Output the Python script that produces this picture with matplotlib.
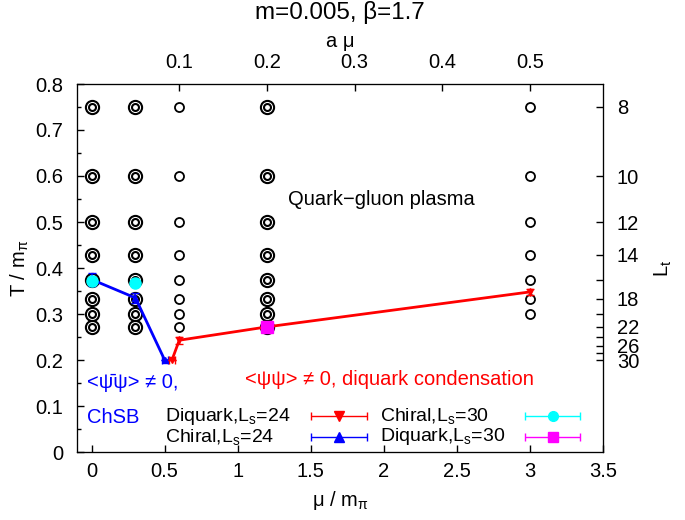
import numpy as np
import matplotlib
matplotlib.use('Agg')
import matplotlib.pyplot as plt

plt.rcParams['font.family'] = ['Liberation Sans', 'DejaVu Sans']
plt.rcParams['mathtext.fontset'] = 'custom'
plt.rcParams['mathtext.rm'] = 'Liberation Sans'
plt.rcParams['mathtext.it'] = 'Liberation Sans:italic'
plt.rcParams['font.size'] = 14.5

# a*m_pi = 1/6  ->  a*mu = (mu/m_pi)/6,  T/m_pi = 6/L_t
ampi = 1.0 / 6.0

# simulated lattices (mu/m_pi, L_t)
mu_double = [0.0, 0.3, 1.2]
Lt_double = [8, 10, 12, 14, 16, 18, 20, 22]
mu_single = [0.6, 0.6, 0.6, 0.6, 0.6, 0.6, 0.6, 0.6, 3.0, 3.0, 3.0, 3.0, 3.0, 3.0, 3.0]
Lt_single = [8, 10, 12, 14, 16, 18, 20, 22, 8, 10, 12, 14, 16, 18, 20]

# transition lines
chiral24_mu = [0.0, 0.3, 0.5]
chiral24_T = [0.375, 0.335, 0.2]
chiral24_Terr = [0.015, 0.01, 0.0]
chiral24_muerr = [0.0, 0.0, 0.02]

diquark24_mu = [0.55, 0.6, 1.2, 3.0]
diquark24_T = [0.2, 0.243, 0.272, 0.348]
diquark24_Terr = [0.0, 0.008, 0.004, 0.006]
diquark24_muerr = [0.02, 0.0, 0.0, 0.0]

chiral30_mu = [0.0, 0.3]
chiral30_T = [0.372, 0.368]
diquark30_mu = [1.2]
diquark30_T = [0.2727]

top_ticks = [0.1, 0.2, 0.3, 0.4, 0.5]
right_ticks = [8, 10, 12, 14, 16, 18, 20, 22, 24, 26, 28, 30]
right_labels = ['8', '10', '12', '14', '', '18', '', '22', '', '26', '', '30']

key_labels = ['Diquark,L$_{\\rm s}$=24', 'Chiral,L$_{\\rm s}$=24',
              'Chiral,L$_{\\rm s}$=30', 'Diquark,L$_{\\rm s}$=30']
key_colors = ['red', 'blue', 'cyan', 'magenta']
key_markers = ['v', '^', 'o', 's']

fig = plt.figure(figsize=(6.85, 5.2), dpi=100)
fig.subplots_adjust(left=77/685, right=603/685, bottom=68/520, top=436/520)
ax = fig.add_subplot(111)

T_double = [6.0 / L for L in Lt_double]
for m in mu_double:
    ax.plot([m] * len(T_double), T_double, 'o', mfc='none', mec='black', ms=9.5, mew=1.5, zorder=2)
    ax.plot([m] * len(T_double), T_double, 'o', mfc='none', mec='black', ms=5, mew=1.5, zorder=2)
ax.plot(mu_single, [6.0 / L for L in Lt_single], 'o', mfc='none', mec='black', ms=6.5, mew=1.3, zorder=2)

ax.errorbar(chiral24_mu, chiral24_T, yerr=chiral24_Terr, xerr=chiral24_muerr, color='blue',
            marker='^', ms=5, lw=2, elinewidth=1.2, capsize=3, zorder=4)
ax.errorbar(diquark24_mu, diquark24_T, yerr=diquark24_Terr, xerr=diquark24_muerr, color='red',
            marker='v', ms=5, lw=2, elinewidth=1.2, capsize=3, zorder=4)
ax.plot(chiral30_mu, chiral30_T, 'o', color='cyan', ms=8, zorder=5)
ax.plot(diquark30_mu, diquark30_T, 's', color='magenta', ms=9, zorder=5)

ax.set_xlim(-0.1, 3.5)
ax.set_ylim(0, 0.8)
ax.set_xticks(np.arange(0, 3.51, 0.5))
ax.set_xticklabels(['0', '0.5', '1', '1.5', '2', '2.5', '3', '3.5'])
ax.set_yticks(np.arange(0, 0.81, 0.1))
ax.set_yticklabels(['0', '0.1', '0.2', '0.3', '0.4', '0.5', '0.6', '0.7', '0.8'])
ax.set_yticks(np.arange(0.05, 0.8, 0.1), minor=True)
ax.tick_params(axis='x', direction='in', length=5, width=1, pad=7)
ax.tick_params(axis='y', direction='in', length=5, width=1, pad=10)
ax.tick_params(which='minor', direction='in', length=3, width=1)
ax.set_xlabel('μ / m$_{\\rm π}$', labelpad=6)
ax.set_ylabel('T / m$_{\\rm π}$', labelpad=3)

ax.text(1.98, 0.548, 'Quark\u2212gluon plasma', ha='center', va='center')
ax.text(-0.03, 0.152, '<ψ\u0304ψ> ≠ 0,', color='blue', ha='left', va='center')
ax.text(-0.03, 0.076, 'ChSB', color='blue', ha='left', va='center')
ax.text(1.05, 0.157, '<ψψ> ≠ 0, diquark condensation', color='red', ha='left', va='center')

# gnuplot style key: label, then horizontal bar with caps and marker
key_text_x = [0.167, 0.167, 0.576, 0.576]
key_x0 = [0.445, 0.445, 0.852, 0.852]
key_x1 = [0.551, 0.551, 0.956, 0.956]
key_y = [0.097, 0.041, 0.097, 0.041]
for lab, c, mk, tx, x0, x1, y in zip(key_labels, key_colors, key_markers,
                                     key_text_x, key_x0, key_x1, key_y):
    ax.text(tx, y, lab, transform=ax.transAxes, ha='left', va='center', fontsize=14)
    ax.errorbar([(x0 + x1) / 2], [y], xerr=[(x1 - x0) / 2], transform=ax.transAxes,
                color=c, marker=mk, ms=7, elinewidth=1.0, capsize=3, capthick=1.0, clip_on=False)

axt = ax.twiny()
axt.set_xlim(ax.get_xlim())
axt.set_xticks([a / ampi for a in top_ticks])
axt.set_xticklabels([str(a) for a in top_ticks])
axt.tick_params(direction='in', length=5, width=1, pad=9)
axt.set_xlabel('a μ', labelpad=4)
axt.set_title('m=0.005, β=1.7', pad=9)

axr = ax.twinx()
axr.set_ylim(ax.get_ylim())
axr.set_yticks([6.0 / L for L in right_ticks])
axr.set_yticklabels(right_labels)
axr.tick_params(direction='in', length=5, width=1, pad=10)
axr.set_ylabel('L$_{\\rm t}$', labelpad=10)

plt.savefig('out.png', dpi=100)
